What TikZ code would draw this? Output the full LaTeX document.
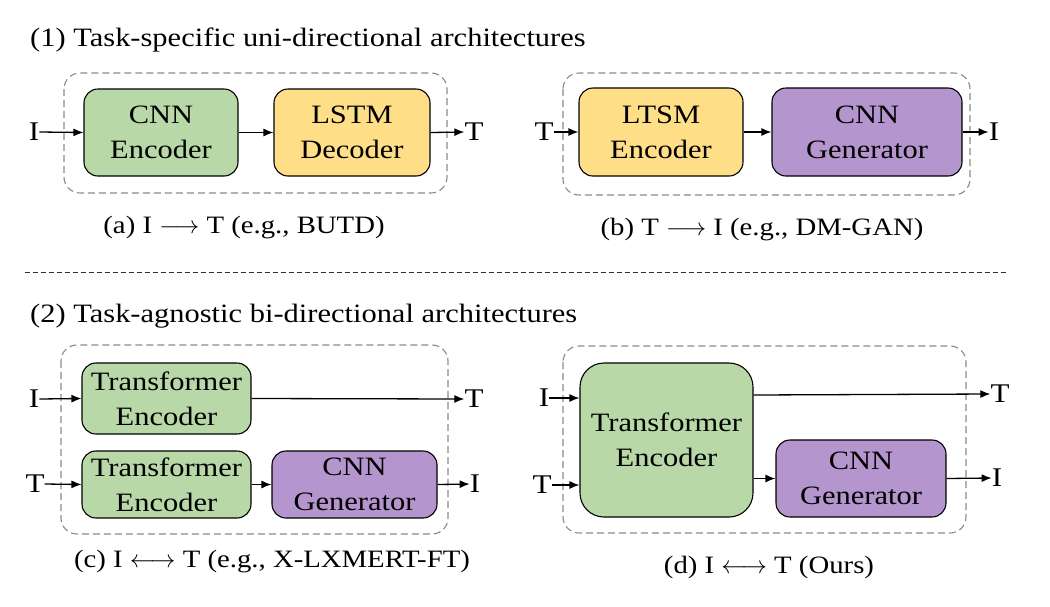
\documentclass[tikz,border=0pt]{standalone}
\usepackage{fontspec}
\setmainfont{Liberation Serif}[FakeStretch=1.15]
\usetikzlibrary{arrows.meta,calc}
\definecolor{gfill}{HTML}{B8D8A8}
\definecolor{yfill}{HTML}{FEDF88}
\definecolor{pfill}{HTML}{B495CD}
\definecolor{dgray}{HTML}{8A8A8A}
\tikzset{
  blk/.style={draw=black,line width=1.1pt,rounded corners=14pt,align=center,inner sep=0pt,
    font=\fontsize{26.5}{35}\selectfont},
  grn/.style={blk,fill=gfill},
  ylw/.style={blk,fill=yfill},
  prp/.style={blk,fill=pfill},
  grp/.style={draw=dgray,line width=1.1pt,dash pattern=on 7pt off 4pt,rounded corners=16pt},
  lbl/.style={inner sep=0pt,font=\fontsize{27}{30}\selectfont},
  captext/.style={inner sep=0pt,anchor=base,font=\fontsize{25}{30}\selectfont},
  ttl/.style={inner sep=0pt,anchor=base west,font=\fontsize{26.5}{30}\selectfont},
  arr/.style={-{Latex[length=10pt,width=8pt]},line width=1.3pt},
}
\begin{document}
\begin{tikzpicture}[x=1pt,y=-1pt]
\useasboundingbox (0,0) rectangle (1050,606);
% titles
\node[ttl] (t1) at (30,46) {(1) Task-specific uni-directional architectures};
\node[ttl] (t2) at (30,322) {(2) Task-agnostic bi-directional architectures};
\coordinate (sepL) at (25,272);
\coordinate (sepR) at (1006,272);
\draw[line width=0.8pt,dash pattern=on 5pt off 3pt,black!80] (sepL) -- (sepR);

% ---------- (a)
\draw[grp] (64,73) rectangle (447,193);
\node[grn,minimum width=154pt,minimum height=87pt] (a1) at (161,132.5) {CNN\\Encoder};
\node[ylw,minimum width=156pt,minimum height=87pt] (a2) at (352,132.5) {LSTM\\Decoder};
\node[lbl] (ai) at (34,132) {I};
\node[lbl] (ao) at (474,132) {T};
\draw[arr] (ai.east) -- (a1.west);
\draw[arr] (a1.east) -- (a2.west);
\draw[arr] (a2.east) -- (ao.west);
\node[captext] (ac) at (244,233) {(a) I $\longrightarrow$ T (e.g., BUTD)};

% ---------- (b)
\draw[grp] (563,73) rectangle (970,195);
\node[ylw,minimum width=164pt,minimum height=88pt] (b1) at (661,132) {LTSM\\Encoder};
\node[prp,minimum width=190pt,minimum height=88pt] (b2) at (867,132) {CNN\\Generator};
\node[lbl] (bi) at (544,132) {T};
\node[lbl] (bo) at (994,132) {I};
\draw[arr] (bi.east) -- (b1.west);
\draw[arr] (b1.east) -- (b2.west);
\draw[arr] (b2.east) -- (bo.west);
\node[captext] (bc) at (762,235) {(b) T $\longrightarrow$ I (e.g., DM-GAN)};

% ---------- (c)
\draw[grp] (61,345) rectangle (448,534);
\node[grn,minimum width=169pt,minimum height=71pt] (c1) at (166.5,398.5) {Transformer\\Encoder};
\node[grn,minimum width=169pt,minimum height=67pt] (c2) at (166.5,484.5) {Transformer\\Encoder};
\node[prp,minimum width=165pt,minimum height=67pt] (c3) at (354.5,484.5) {CNN\\Generator};
\node[lbl] (ci1) at (34,399) {I};
\node[lbl] (ct1) at (474,399) {T};
\node[lbl] (ci2) at (35,484) {T};
\node[lbl] (ct2) at (475,484) {I};
\draw[arr] (ci1.east) -- (c1.west);
\draw[arr] (c1.east) -- (ct1.west);
\draw[arr] (ci2.east) -- (c2.west);
\draw[arr] (c2.east) -- (c3.west);
\draw[arr] (c3.east) -- (ct2.west);
\node[captext] (cc) at (272,567) {(c) I $\longleftrightarrow$ T (e.g., X-LXMERT-FT)};

% ---------- (d)
\draw[grp] (563,346) rectangle (966,533);
\node[grn,minimum width=173pt,minimum height=154pt,rounded corners=24pt] (d1) at (666.5,440) {Transformer\\Encoder};
\node[prp,minimum width=170pt,minimum height=77pt] (d2) at (861,478.5) {CNN\\Generator};
\node[lbl] (di1) at (544,398) {I};
\node[lbl] (di2) at (542,485) {T};
\node[lbl] (do1) at (1000,394) {T};
\node[lbl] (do2) at (997,478) {I};
\coordinate (d1a) at ($(d1.west)+(0,-42)$);
\coordinate (d1b) at ($(d1.west)+(0,45)$);
\coordinate (d1c) at ($(d1.east)+(0,-45)$);
\coordinate (d1d) at ($(d1.east)+(0,38.5)$);
\draw[arr] (di1.east) -- (d1a);
\draw[arr] (di2.east) -- (d1b);
\draw[arr] (d1c) -- (do1.west);
\draw[arr] (d1d) -- (d2.west);
\draw[arr] (d2.east) -- (do2.west);
\node[captext] (dc) at (769,573) {(d) I $\longleftrightarrow$ T (Ours)};
\end{tikzpicture}
\end{document}
